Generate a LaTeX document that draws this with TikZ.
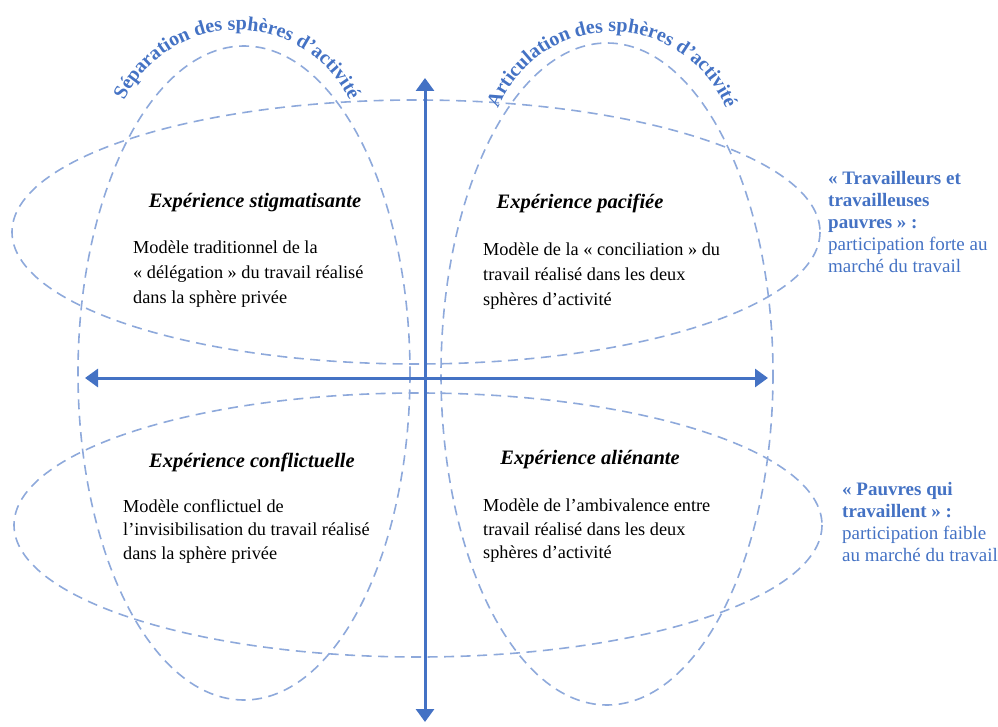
\documentclass[tikz,border=0pt]{standalone}
\usepackage{fontspec}
\setmainfont{Liberation Serif}
\usetikzlibrary{arrows.meta,decorations.text}
\definecolor{axisblue}{HTML}{4472C4}
\definecolor{dashblue}{HTML}{8EA9DB}
\newcommand{\arcfont}{\fontsize{20}{20}\selectfont\bfseries\color{axisblue}}
\begin{document}
\begin{tikzpicture}[x=1pt,y=-1pt,
  sphere/.style={draw=dashblue, line width=1.6pt, dash pattern=on 10pt off 6.5pt},
  axis/.style={draw=axisblue, line width=3pt, {Triangle[length=13pt,width=18pt]}-{Triangle[length=13pt,width=18pt]}},
  head/.style={font=\fontsize{20.5}{24}\selectfont\bfseries\itshape, inner sep=0pt},
  body/.style={font=\fontsize{18.3}{25}\selectfont, align=left, anchor=north west, inner sep=0pt},
  bodyb/.style={body, font=\fontsize{18.3}{23.5}\selectfont},
  side/.style={font=\fontsize{19}{22}\selectfont, text=axisblue, align=left, anchor=north west, inner sep=0pt}]
\useasboundingbox (0,0) rectangle (998,727);
% spheres
\draw[sphere] (244,373) ellipse [x radius=166, y radius=327];
\draw[sphere] (607,374) ellipse [x radius=166, y radius=331];
\draw[sphere] (416,232) ellipse [x radius=404, y radius=132];
\draw[sphere] (418,525) ellipse [x radius=404, y radius=132];
% axes
\coordinate (vtop) at (425,78);
\coordinate (vbot) at (425,722);
\coordinate (hleft) at (85,378);
\coordinate (hright) at (768,378);
\draw[axis] (vbot) -- (vtop);
\draw[axis] (hleft) -- (hright);
% arc labels
\path[decorate, decoration={text along path, text align=center,
  text={|\arcfont|Séparation des sphères d’activité}}]
  (237,155) ++(-178:125) arc[start angle=-178, end angle=-2, radius=125];
\path[decorate, decoration={text along path, text align=center,
  text={|\arcfont|Articulation des sphères d’activité}}]
  (612,155) ++(-178:123) arc[start angle=-178, end angle=-2, radius=123];
% quadrant headers
\node[head] (h1) at (255,203) {Expérience stigmatisante};
\node[head] (h2) at (580,203) {Expérience pacifiée};
\node[head] (h3) at (252,462) {Expérience conflictuelle};
\node[head] (h4) at (590,460) {Expérience aliénante};
% quadrant bodies
\node[body] (b1) at (133,241) {Modèle traditionnel de la\\« délégation » du travail réalisé\\dans la sphère privée};
\node[body] (b2) at (483,243) {Modèle de la « conciliation » du\\travail réalisé dans les deux\\sphères d’activité};
\node[bodyb] (b3) at (123,499) {Modèle conflictuel de\\l’invisibilisation du travail réalisé\\dans la sphère privée};
\node[bodyb] (b4) at (483,499) {Modèle de l’ambivalence entre\\travail réalisé dans les deux\\sphères d’activité};
% side labels
\node[side] (s1) at (828,171) {\textbf{« Travailleurs et}\\\textbf{travailleuses}\\\textbf{pauvres » :}\\participation forte au\\marché du travail};
\node[side] (s2) at (842,482) {\textbf{« Pauvres qui}\\\textbf{travaillent » :}\\participation faible\\au marché du travail};
\end{tikzpicture}
\end{document}
